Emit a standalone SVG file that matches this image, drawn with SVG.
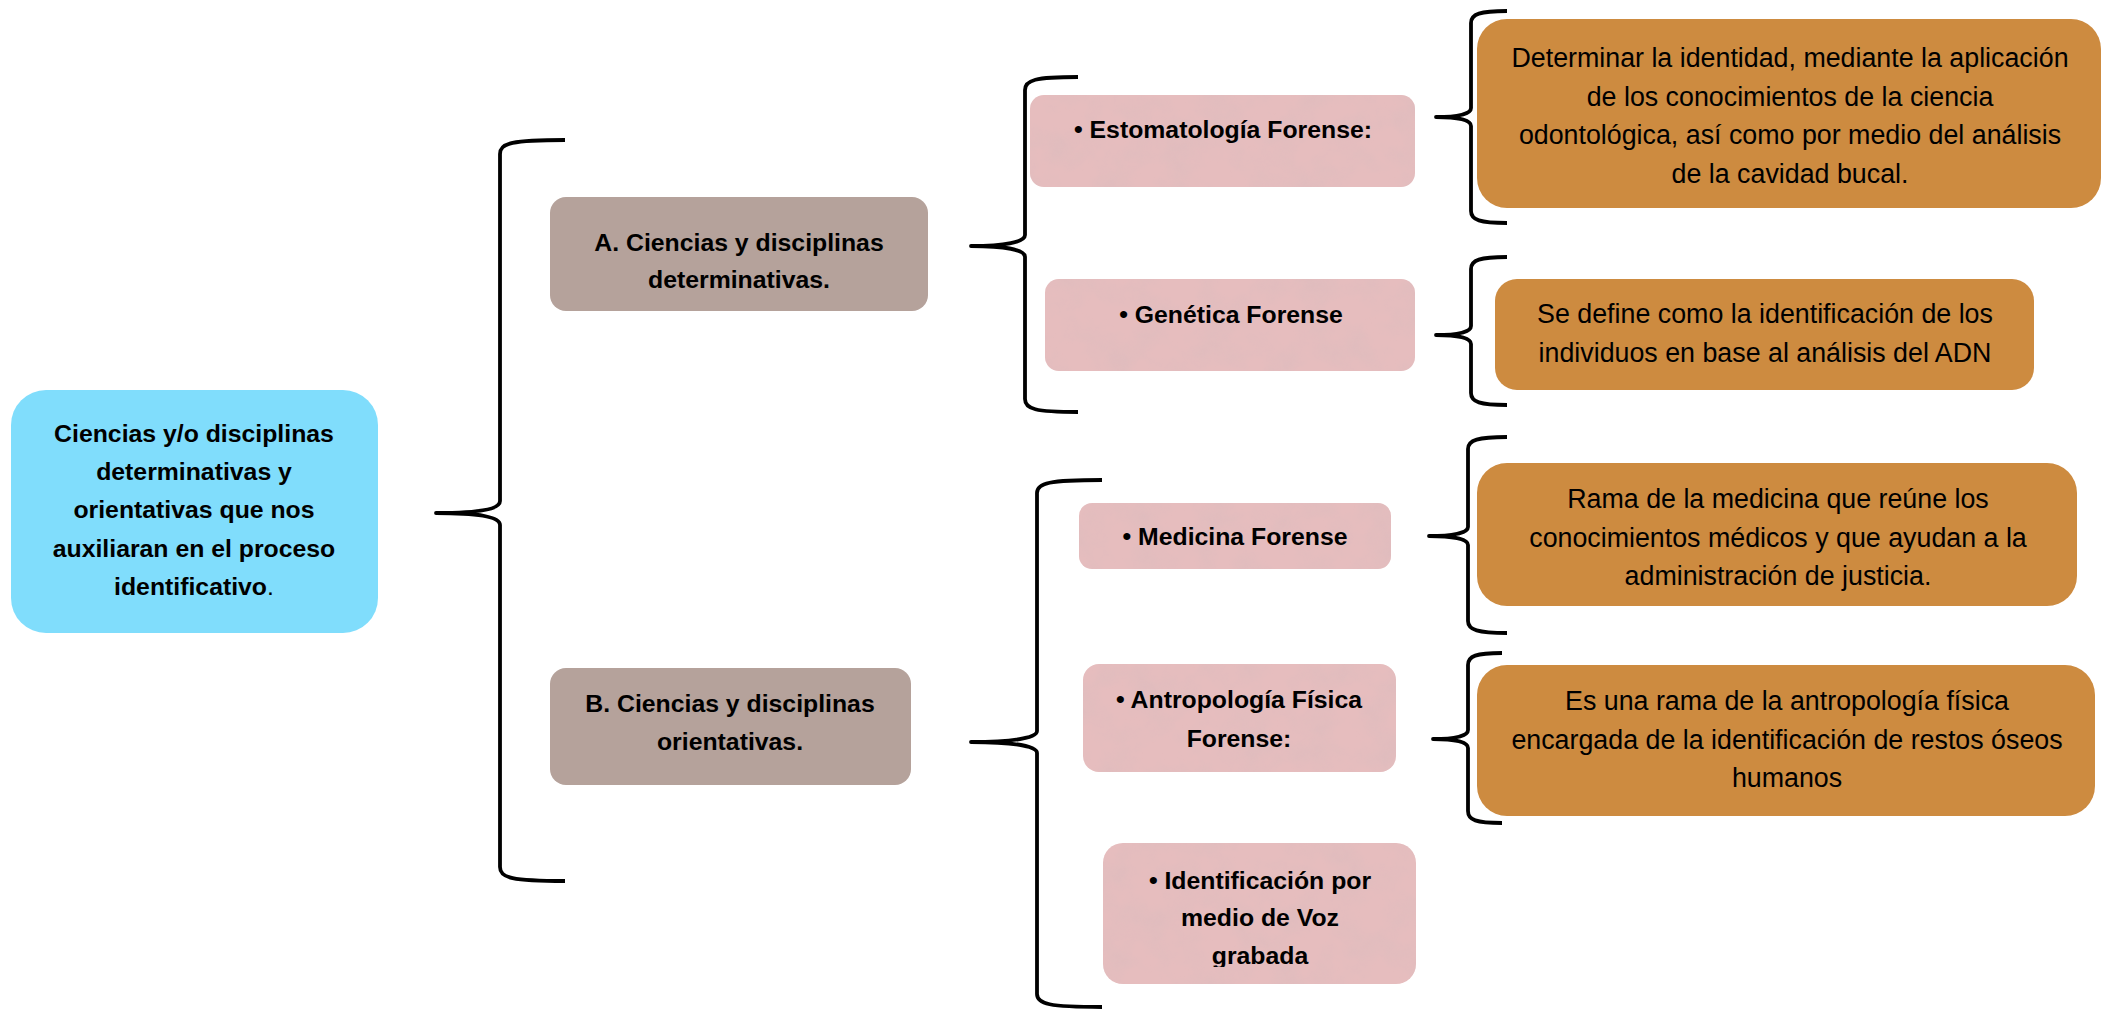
<svg xmlns="http://www.w3.org/2000/svg" width="2104" height="1015" viewBox="0 0 2104 1015">
<style>
.b{font-family:"Liberation Sans",Arial,sans-serif;font-weight:bold;font-size:24.8px;fill:#000;text-anchor:middle}
.r{font-family:"Liberation Sans",Arial,sans-serif;font-weight:normal;font-size:26.8px;fill:#000;text-anchor:middle}
.brace{fill:none;stroke:#000;stroke-width:3.8;stroke-linejoin:round;stroke-linecap:butt}
.root{fill:#80DDFC}
.cat{fill:#B5A29B}
.pink{fill:#E6BDBE}
.org{fill:#CD8B40}
</style>
<defs>
<filter id="tex" x="0" y="0" width="100%" height="100%">
<feTurbulence type="fractalNoise" baseFrequency="0.03" numOctaves="4" seed="7" result="n"/>
<feColorMatrix in="n" type="matrix" values="0 0 0 0 0.70  0 0 0 0 0.50  0 0 0 0 0.51  1.0 0 0 0 -0.38" result="c"/>
<feComposite in="c" in2="SourceAlpha" operator="in"/>
</filter>
<clipPath id="clipVoz"><rect x="1100" y="840" width="320" height="127"/></clipPath>
</defs>

<g id="connectors">
<path class="brace" d="M565,140 C512,140 500,143 500,154 L500,501 C500,509 480,513 436,513 C480,513 500,517 500,525 L500,867 C500,878 512,881 565,881"/>
<path class="brace" d="M1078,77 C1035,77 1025,80 1025,90 L1025,235 C1025,242 1005,246 971,246 C1005,246 1025,250 1025,257 L1025,399 C1025,409 1035,412 1078,412"/>
<path class="brace" d="M1102,480 C1049,480 1037,483 1037,493 L1037,731 C1037,738 1012,742 971,742 C1012,742 1037,746 1037,753 L1037,994 C1037,1004 1049,1007 1102,1007"/>
<path class="brace" d="M1507,11 C1480,11 1471,14 1471,23 L1471,108 C1471,114 1458,117 1436,117 C1458,117 1471,120 1471,126 L1471,211 C1471,220 1480,223 1507,223"/>
<path class="brace" d="M1507,257 C1480,257 1471,260 1471,269 L1471,326 C1471,332 1458,335 1436,335 C1458,335 1471,338 1471,344 L1471,393 C1471,402 1480,405 1507,405"/>
<path class="brace" d="M1507,437 C1478,437 1468,440 1468,449 L1468,527 C1468,533 1452,536 1429,536 C1452,536 1468,539 1468,545 L1468,621 C1468,630 1478,633 1507,633"/>
<path class="brace" d="M1502,653 C1476,653 1468,656 1468,665 L1468,730 C1468,736 1455,739 1433,739 C1455,739 1468,742 1468,748 L1468,811 C1468,820 1476,823 1502,823"/>
</g>

<g id="root">
<rect class="root" x="11" y="390" width="367" height="243" rx="35"/>
<text class="b" x="194" y="442">Ciencias y/o disciplinas</text>
<text class="b" x="194" y="480">determinativas y</text>
<text class="b" x="194" y="518">orientativas que nos</text>
<text class="b" x="194" y="557">auxiliaran en el proceso</text>
<text class="b" x="194" y="595">identificativo<tspan font-weight="normal">.</tspan></text>
</g>

<g id="catA">
<rect class="cat" x="550" y="197" width="378" height="114" rx="16"/>
<text class="b" x="739" y="251">A. Ciencias y disciplinas</text>
<text class="b" x="739" y="288">determinativas.</text>
</g>

<g id="catB">
<rect class="cat" x="550" y="668" width="361" height="117" rx="16"/>
<text class="b" x="730" y="712">B. Ciencias y disciplinas</text>
<text class="b" x="730" y="750">orientativas.</text>
</g>

<g id="estomatologia">
<rect class="pink" x="1030" y="95" width="385" height="92" rx="14"/>
<rect x="1030" y="95" width="385" height="92" rx="14" fill="#fff" filter="url(#tex)"/>
<text class="b" x="1223" y="138">• Estomatología Forense:</text>
</g>

<g id="genetica">
<rect class="pink" x="1045" y="279" width="370" height="92" rx="14"/>
<rect x="1045" y="279" width="370" height="92" rx="14" fill="#fff" filter="url(#tex)"/>
<text class="b" x="1231" y="323">• Genética Forense</text>
</g>

<g id="medicina">
<rect class="pink" x="1079" y="503" width="312" height="66" rx="13"/>
<rect x="1079" y="503" width="312" height="66" rx="13" fill="#fff" filter="url(#tex)"/>
<text class="b" x="1235" y="545">• Medicina Forense</text>
</g>

<g id="antropologia">
<rect class="pink" x="1083" y="664" width="313" height="108" rx="16"/>
<rect x="1083" y="664" width="313" height="108" rx="16" fill="#fff" filter="url(#tex)"/>
<text class="b" x="1239" y="708">• Antropología Física</text>
<text class="b" x="1239" y="747">Forense:</text>
</g>

<g id="voz">
<rect class="pink" x="1103" y="843" width="313" height="141" rx="20"/>
<rect x="1103" y="843" width="313" height="141" rx="20" fill="#fff" filter="url(#tex)"/>
<g clip-path="url(#clipVoz)">
<text class="b" x="1260" y="889">• Identificación por</text>
<text class="b" x="1260" y="926">medio de Voz</text>
<text class="b" x="1260" y="964">grabada</text>
</g>
</g>

<g id="def-estomatologia">
<rect class="org" x="1477" y="19" width="624" height="189" rx="30"/>
<text class="r" x="1790" y="67">Determinar la identidad, mediante la aplicación</text>
<text class="r" x="1790" y="106">de los conocimientos de la ciencia</text>
<text class="r" x="1790" y="144">odontológica, así como por medio del análisis</text>
<text class="r" x="1790" y="183">de la cavidad bucal.</text>
</g>

<g id="def-genetica">
<rect class="org" x="1495" y="279" width="539" height="111" rx="22"/>
<text class="r" x="1765" y="323">Se define como la identificación de los</text>
<text class="r" x="1765" y="362">individuos en base al análisis del ADN</text>
</g>

<g id="def-medicina">
<rect class="org" x="1477" y="463" width="600" height="143" rx="30"/>
<text class="r" x="1778" y="508">Rama de la medicina que reúne los</text>
<text class="r" x="1778" y="547">conocimientos médicos y que ayudan a la</text>
<text class="r" x="1778" y="585">administración de justicia.</text>
</g>

<g id="def-antropologia">
<rect class="org" x="1477" y="665" width="618" height="151" rx="30"/>
<text class="r" x="1787" y="710">Es una rama de la antropología física</text>
<text class="r" x="1787" y="749">encargada de la identificación de restos óseos</text>
<text class="r" x="1787" y="787">humanos</text>
</g>
</svg>
